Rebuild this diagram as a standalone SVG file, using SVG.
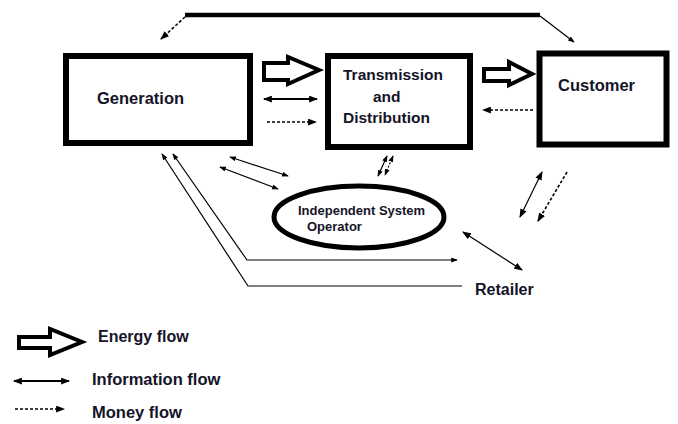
<svg xmlns="http://www.w3.org/2000/svg" width="678" height="424" viewBox="0 0 678 424">
<defs>
<marker id="ah" viewBox="0 0 8 6" refX="7" refY="3" markerWidth="9" markerHeight="7" markerUnits="userSpaceOnUse" orient="auto-start-reverse"><path d="M0,0 L8,3 L0,6 Z" fill="#000"/></marker>
<marker id="ahs" viewBox="0 0 8 6" refX="7" refY="3" markerWidth="7" markerHeight="5" markerUnits="userSpaceOnUse" orient="auto-start-reverse"><path d="M0,0 L8,3 L0,6 Z" fill="#000"/></marker>
<style>
.box{fill:#fff;stroke:#000;stroke-width:6}
.t{font-family:"Liberation Sans",Arial,sans-serif;font-weight:bold;fill:#141428}
.energy{fill:#fff;stroke:#000;stroke-width:4;stroke-linejoin:miter}
.info{fill:none;stroke:#000;stroke-width:2;marker-start:url(#ah);marker-end:url(#ah)}
.thin{fill:none;stroke:#000;stroke-width:1.2}
.money{fill:none;stroke:#000;stroke-width:1.6;stroke-dasharray:3 2;marker-end:url(#ah)}
</style>
</defs>
<rect width="678" height="424" fill="#fff"/>
<g id="generation">
<rect class="box" x="66" y="56" width="184" height="87"/>
<text class="t" x="97" y="104" font-size="16.5">Generation</text>
</g>
<g id="transmission">
<rect class="box" x="328" y="56" width="142" height="91"/>
<text class="t" x="343" y="80" font-size="15.5">Transmission</text>
<text class="t" x="373" y="102" font-size="15.5">and</text>
<text class="t" x="343" y="123" font-size="15.5">Distribution</text>
</g>
<g id="customer">
<rect class="box" x="539.5" y="53.5" width="127" height="91" stroke-width="7"/>
<text class="t" x="558" y="91" font-size="16.5">Customer</text>
</g>
<g id="iso">
<ellipse cx="359" cy="217" rx="85" ry="31" fill="#fff" stroke="#000" stroke-width="5"/>
<text class="t" x="298" y="215" font-size="13">Independent System</text>
<text class="t" x="307" y="231" font-size="13">Operator</text>
</g>
<g id="retailer">
<text class="t" x="475" y="295" font-size="16">Retailer</text>
</g>
<g id="connectors">
<path d="M185,15 H540" stroke="#000" stroke-width="4.5" fill="none"/>
<path class="money" d="M185,17 L161,39"/>
<path class="thin" d="M540,16 L574,42" marker-end="url(#ahs)"/>
<path class="energy" d="M264,63 H288 V57 L319,70 L288,84 V80 H264 Z"/>
<path class="info" d="M264,99 H317"/>
<path class="money" d="M267,122 H316"/>
<path class="energy" d="M484,69 H509 V62 L532,74 L509,85 V81 H484 Z"/>
<path class="money" d="M533,110 H483"/>
<path class="thin" d="M230,157 L288,176" marker-start="url(#ahs)" marker-end="url(#ahs)"/>
<path class="thin" d="M220,167 L278,189" marker-start="url(#ahs)" marker-end="url(#ahs)"/>
<path class="thin" d="M387,156 L378,176" stroke-width="1.5" marker-start="url(#ahs)" marker-end="url(#ahs)"/>
<path class="thin" d="M393,156 L385,175" stroke-width="1.5" stroke-dasharray="2 1.5" marker-start="url(#ahs)" marker-end="url(#ahs)"/>
<path class="thin" d="M173,154 L247,260 H457" marker-start="url(#ahs)" marker-end="url(#ahs)"/>
<path class="thin" d="M162,154 L248,286 H462" marker-start="url(#ahs)"/>
<path class="thin" d="M463,232 L522,270" stroke-width="1.5" marker-start="url(#ah)" marker-end="url(#ah)"/>
<path class="thin" d="M542,172 L520,217" stroke-width="1.8" marker-start="url(#ah)" marker-end="url(#ah)"/>
<path class="money" d="M567,172 L538,221"/>
</g>
<g id="legend">
<path class="energy" d="M19,337 H50 V329 L82,342 L50,355 V348 H19 Z" stroke-width="4.5"/>
<text class="t" x="98" y="342" font-size="16">Energy flow</text>
<path class="info" d="M14,381 H69"/>
<text class="t" x="92" y="385" font-size="16.5">Information flow</text>
<path class="money" d="M15,409 H64"/>
<text class="t" x="92" y="418" font-size="16.5">Money flow</text>
</g>
</svg>
